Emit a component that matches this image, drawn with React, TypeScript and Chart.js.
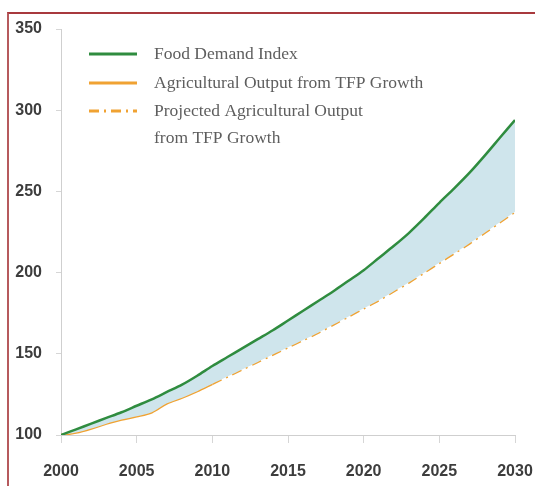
import React, { useEffect, useRef } from "react";
import { Chart, registerables } from "chart.js";

Chart.register(...registerables);

const years = [
  2000, 2001, 2002, 2003, 2004, 2005, 2006, 2007, 2008, 2009, 2010,
  2011, 2012, 2013, 2014, 2015, 2016, 2017, 2018, 2019, 2020,
  2021, 2022, 2023, 2024, 2025, 2026, 2027, 2028, 2029, 2030,
];
const foodDemand = [
  100, 103.5, 107, 110.5, 114, 118, 122, 126.5, 131, 136.5, 142.5,
  148, 153.5, 159, 164.5, 170.5, 176.5, 182.5, 188.5, 195, 201.5,
  209, 216.5, 224.5, 233.5, 243, 252, 261.5, 272, 283, 294,
];
// 2000-2010 observed
const agOutput = [100, 101.5, 104, 107, 109.5, 111.5, 114, 119.5, 123, 127, 131.5];
// 2010-2030 projected
const agProjected = [
  131.5, 136, 140.5, 145, 149.5, 154, 158.5, 163, 168, 173, 178,
  183, 188.5, 194, 200, 206, 212, 218, 224.5, 231, 237.5,
];
const xTicks = [2000, 2005, 2010, 2015, 2020, 2025, 2030];
const yTicks = [100, 150, 200, 250, 300, 350];

const legendLabels = [
  ["Food Demand Index"],
  ["Agricultural Output from TFP Growth"],
  ["Projected Agricultural Output", "from TFP Growth"],
];

const GREEN = "#2f8c3f";
const ORANGE = "#f0a232";
const FILL = "#cfe5ec";
const DASH = [10, 5, 2, 5];
const TICK_FONT = "'Liberation Sans', Arial, sans-serif";
const LEGEND_FONT = "'Liberation Serif', 'DejaVu Serif', serif";

export default function App() {
  const ref = useRef<HTMLCanvasElement | null>(null);

  useEffect(() => {
    if (!ref.current) return;
    const n = agOutput.length;
    const orangeData = years.map((yr, i) => ({
      x: yr,
      y: i < n ? agOutput[i] : agProjected[i - (n - 1)],
    }));
    const greenData = years.map((yr, i) => ({ x: yr, y: foodDemand[i] }));

    const legendPlugin = {
      id: "customLegend",
      afterDraw(chart: any) {
        const { ctx, chartArea } = chart;
        const l = chartArea.left;
        const t = chartArea.top;
        const styles = [
          { color: GREEN, dash: [] as number[] },
          { color: ORANGE, dash: [] as number[] },
          { color: ORANGE, dash: DASH },
        ];
        const rowY = [t + 25, t + 54, t + 82];
        ctx.save();
        legendLabels.forEach((lines, i) => {
          const y = rowY[i];
          ctx.beginPath();
          ctx.setLineDash(styles[i].dash);
          ctx.strokeStyle = styles[i].color;
          ctx.lineWidth = 3;
          ctx.moveTo(l + 28, y);
          ctx.lineTo(l + 76, y);
          ctx.stroke();
          ctx.setLineDash([]);
          ctx.fillStyle = "#5e5e5e";
          ctx.font = `17.5px ${LEGEND_FONT}`;
          ctx.textBaseline = "middle";
          ctx.textAlign = "left";
          lines.forEach((s, j) => {
            ctx.fillText(s, l + 93, y + j * 27);
          });
        });
        ctx.restore();
      },
    };

    const chart = new Chart(ref.current, {
      type: "line",
      data: {
        datasets: [
          {
            label: "Food Demand Index",
            data: greenData,
            borderColor: GREEN,
            backgroundColor: FILL,
            borderWidth: 2.5,
            pointRadius: 0,
            tension: 0.3,
            fill: { target: 2 },
          },
          {
            label: "Agricultural Output from TFP Growth",
            data: orangeData,
            borderColor: ORANGE,
            borderWidth: 2.5,
            pointRadius: 0,
            tension: 0.3,
            fill: false,
            segment: {
              borderDash: (ctx: any) => (ctx.p0DataIndex >= n - 1 ? DASH : undefined),
            },
          },
          {
            label: "fill-base",
            data: orangeData,
            borderColor: "rgba(0,0,0,0)",
            borderWidth: 0,
            pointRadius: 0,
            tension: 0.3,
            fill: false,
            order: 5,
          },
        ],
      },
      options: {
        animation: false,
        responsive: true,
        maintainAspectRatio: false,
        layout: { padding: { top: 29, right: 20, left: 0, bottom: 0 } },
        plugins: {
          legend: { display: false },
          tooltip: { enabled: false },
        },
        scales: {
          x: {
            type: "linear",
            min: 2000,
            max: 2030,
            afterBuildTicks: (s: any) => {
              s.ticks = xTicks.map((v) => ({ value: v }));
            },
            afterFit: (s: any) => {
              s.height = 51;
              s.paddingLeft = 0;
              s.paddingRight = 0;
            },
            ticks: {
              callback: (v: any) => String(v),
              color: "#3d3d3d",
              font: { family: TICK_FONT, size: 16, weight: "bold" },
              padding: 19,
              maxRotation: 0,
            },
            grid: {
              drawOnChartArea: false,
              drawTicks: true,
              tickLength: 8,
              color: "#d6d6d6",
            },
            border: { display: true, color: "#cfcfcf", width: 1 },
          },
          y: {
            min: 100,
            max: 350,
            afterBuildTicks: (s: any) => {
              s.ticks = yTicks.map((v) => ({ value: v }));
            },
            afterFit: (s: any) => {
              s.width = 61;
              s.paddingTop = 0;
              s.paddingBottom = 0;
            },
            ticks: {
              callback: (v: any) => String(v),
              color: "#3d3d3d",
              font: { family: TICK_FONT, size: 16, weight: "bold" },
              padding: 14,
            },
            grid: {
              drawOnChartArea: false,
              drawTicks: true,
              tickLength: 5,
              color: "#d6d6d6",
            },
            border: { display: true, color: "#cfcfcf", width: 1 },
          },
        },
      },
      plugins: [legendPlugin],
    });
    return () => chart.destroy();
  }, []);

  return (
    <div style={{ position: "fixed", left: 0, top: 0, width: 535, height: 486, background: "#ffffff" }}>
      <div
        style={{
          position: "absolute",
          left: 7,
          top: 12,
          right: 0,
          bottom: 0,
          borderTop: "2px solid #a8393d",
          borderLeft: "2px solid #b65a5d",
          pointerEvents: "none",
        }}
      />
      <canvas ref={ref} style={{ position: "absolute", left: 0, top: 0 }} />
    </div>
  );
}
